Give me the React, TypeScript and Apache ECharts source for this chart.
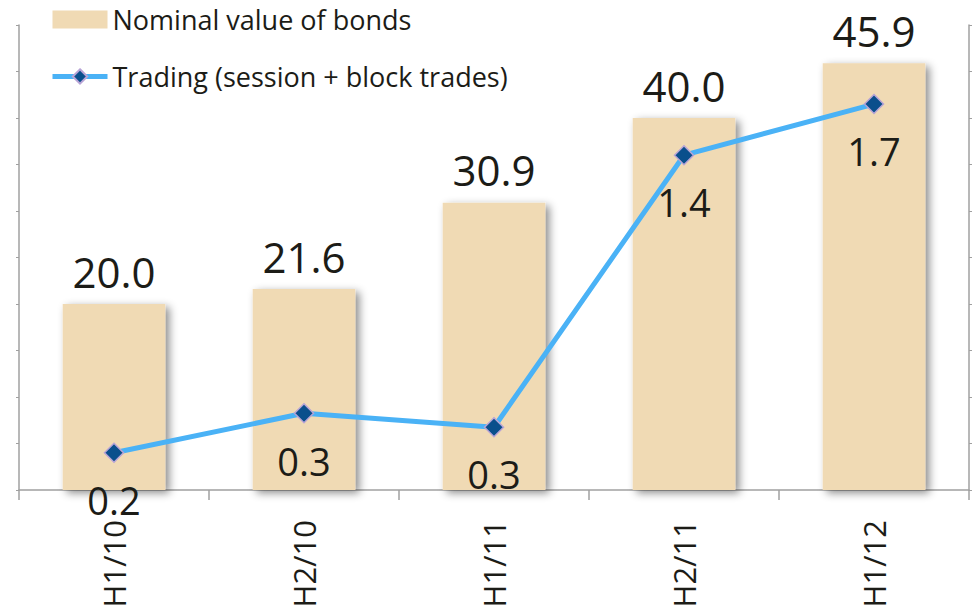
import React, { useEffect, useRef } from "react";
import * as echarts from "echarts";

const categories = ["H1/10", "H2/10", "H1/11", "H2/11", "H1/12"];
const nominalValues = [20.0, 21.6, 30.9, 40.0, 45.9];
const tradingValues = [0.16, 0.33, 0.27, 1.44, 1.66];
const seriesNames = ["Nominal value of bonds", "Trading (session + block trades)"];

const FONT = "'Open Sans', sans-serif";
const TEXT = "#1c1c17";
const AXIS = "#a0a0a0";

export default function App() {
  const ref = useRef<HTMLDivElement>(null);
  useEffect(() => {
    if (!ref.current) return;
    const chart = echarts.init(ref.current, undefined, { renderer: "svg" });
    chart.setOption({
      animation: false,
      backgroundColor: "#ffffff",
      textStyle: { fontFamily: FONT },
      legend: {
        orient: "vertical",
        left: 50,
        top: 6,
        padding: 0,
        itemWidth: 55,
        itemHeight: 18,
        itemGap: 30,
        textStyle: { fontSize: 27, color: TEXT, fontFamily: FONT },
        data: [
          { name: seriesNames[0], icon: "rect" },
          { name: seriesNames[1], lineStyle: { width: 5, color: "#4ab2f6" } },
        ],
      },
      grid: { left: 19, right: 8, top: 25, bottom: 121, containLabel: false },
      xAxis: {
        type: "category",
        data: categories,
        axisLine: { lineStyle: { color: AXIS, width: 1.5 } },
        axisTick: { show: true, length: 10, lineStyle: { color: AXIS, width: 1.5 } },
        axisLabel: { rotate: 90, margin: 30, fontSize: 31, color: TEXT, fontFamily: FONT },
      },
      yAxis: [
        {
          type: "value",
          min: 0,
          max: 50,
          interval: 5,
          axisLine: { show: true, lineStyle: { color: AXIS, width: 1.5 } },
          axisTick: { show: true, length: 3, lineStyle: { color: AXIS } },
          axisLabel: { show: false },
          splitLine: { show: false },
        },
        {
          type: "value",
          min: 0,
          max: 2,
          interval: 0.2,
          position: "right",
          axisLine: { show: true, lineStyle: { color: AXIS, width: 1.5 } },
          axisTick: { show: true, length: 3, lineStyle: { color: AXIS } },
          axisLabel: { show: false },
          splitLine: { show: false },
        },
      ],
      series: [
        {
          name: seriesNames[0],
          type: "bar",
          data: nominalValues,
          barWidth: "54%",
          itemStyle: {
            color: "#f0dab4",
            shadowBlur: 8,
            shadowColor: "rgba(0,0,0,0.45)",
            shadowOffsetX: 4,
            shadowOffsetY: 3,
          },
          label: {
            show: true,
            position: "top",
            distance: 12,
            fontSize: 42,
            color: TEXT,
            fontFamily: FONT,
            formatter: (p: any) => Number(p.value).toFixed(1),
          },
        },
        {
          name: seriesNames[1],
          type: "line",
          yAxisIndex: 1,
          data: tradingValues,
          symbol: "diamond",
          symbolSize: 19,
          lineStyle: { color: "#4ab2f6", width: 5 },
          itemStyle: { color: "#0a4f8c", borderColor: "#b8a4d6", borderWidth: 1.5 },
          label: {
            show: true,
            position: "bottom",
            distance: 18,
            fontSize: 38,
            color: TEXT,
            fontFamily: FONT,
            formatter: (p: any) => Number(p.value).toFixed(1),
          },
          z: 5,
        },
      ],
    });
    return () => chart.dispose();
  }, []);
  return (
    <div
      ref={ref}
      style={{ position: "fixed", left: 0, top: 0, width: 977, height: 611 }}
    />
  );
}
